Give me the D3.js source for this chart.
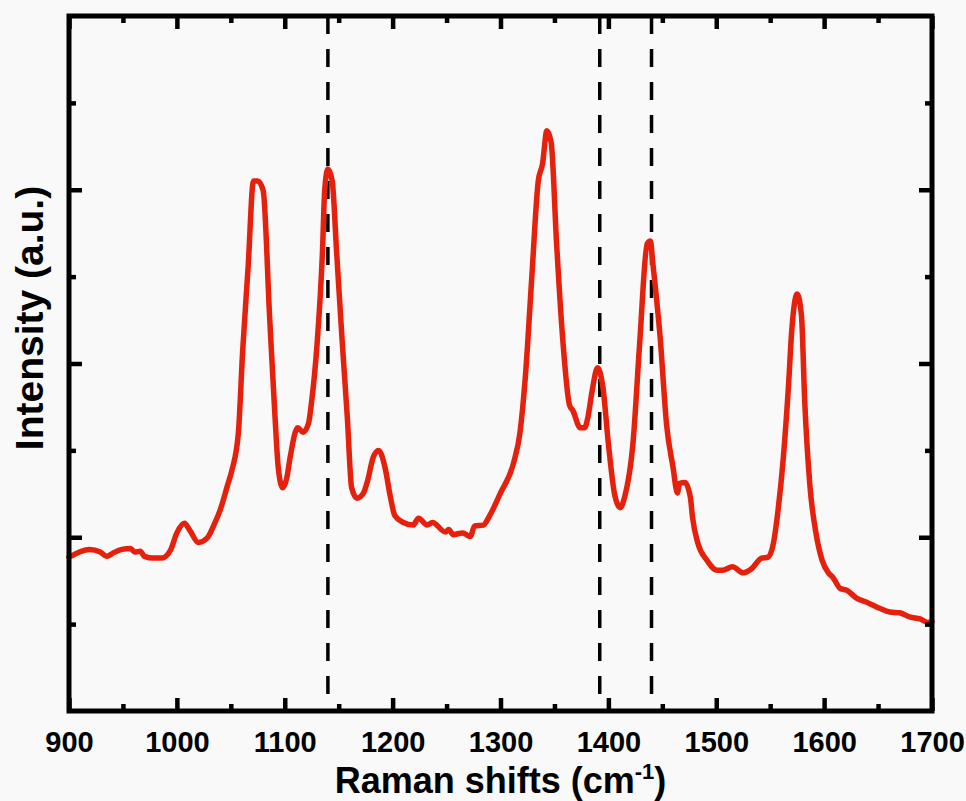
<!DOCTYPE html>
<html>
<head>
<meta charset="utf-8">
<script src="https://cdn.jsdelivr.net/npm/d3@7/dist/d3.min.js"></script>
<style>
  html, body { margin: 0; padding: 0; background: #f9f9f9; }
  svg { display: block; }
  text { font-family: "Liberation Sans", Arial, sans-serif; font-weight: bold; fill: #000; }
</style>
</head>
<body>
<svg id="chart" width="966" height="801"></svg>
<script>
// Raman spectrum: wavenumber (cm^-1) and intensity (a.u.)
const shifts = [
  900, 919, 929, 935, 941, 949, 957, 961, 966, 970, 978, 986, 994, 1000, 1007, 1012, 1020, 1028, 1035, 1040,
  1047, 1051, 1057, 1061, 1066, 1071, 1075, 1080, 1086, 1091, 1094, 1098, 1102, 1105, 1112, 1117, 1122, 1125,
  1130, 1135, 1137, 1140, 1144, 1148, 1153, 1158, 1162, 1167, 1173, 1177, 1182, 1187, 1193, 1198, 1202, 1210,
  1219, 1224, 1232, 1237, 1249, 1252, 1256, 1265, 1272, 1276, 1284, 1290, 1300, 1312, 1318, 1323, 1329, 1335,
  1339, 1343, 1347, 1352, 1358, 1364, 1367, 1374, 1378, 1381, 1385, 1390, 1395, 1400, 1406, 1411, 1415, 1423,
  1429, 1436, 1439, 1441, 1448, 1454, 1460, 1464, 1466, 1471, 1476, 1478, 1483, 1491, 1501, 1506, 1515, 1525,
  1533, 1542, 1548, 1553, 1557, 1562, 1567, 1570, 1575, 1579, 1582, 1587, 1592, 1598, 1604, 1608, 1615, 1621,
  1630, 1640, 1645, 1652, 1661, 1670, 1680, 1689, 1696, 1700
];
const intensity = [
  1.77, 1.86, 1.83, 1.78, 1.82, 1.86, 1.87, 1.83, 1.84, 1.78, 1.76, 1.76, 1.85, 2.05, 2.16, 2.08, 1.94, 1.99, 2.16, 2.31,
  2.60, 2.77, 3.20, 4.15, 5.10, 6.10, 6.10, 5.99, 4.53, 3.38, 2.80, 2.57, 2.69, 2.92, 3.26, 3.21, 3.31, 3.57,
  4.23, 5.30, 5.99, 6.24, 6.10, 5.30, 4.30, 3.38, 2.57, 2.45, 2.51, 2.66, 2.92, 3.00, 2.80, 2.46, 2.25, 2.17,
  2.14, 2.22, 2.14, 2.17, 2.06, 2.09, 2.03, 2.05, 2.01, 2.13, 2.14, 2.25, 2.51, 2.85, 3.20, 3.84, 4.99, 6.10,
  6.30, 6.68, 6.54, 5.38, 4.23, 3.52, 3.46, 3.26, 3.26, 3.38, 3.69, 3.95, 3.72, 3.08, 2.48, 2.34, 2.46, 3.11,
  4.23, 5.38, 5.41, 5.18, 4.30, 3.29, 2.80, 2.51, 2.62, 2.63, 2.46, 2.23, 1.93, 1.74, 1.62, 1.62, 1.66, 1.59,
  1.64, 1.76, 1.77, 1.93, 2.28, 2.89, 3.75, 4.38, 4.80, 4.55, 3.57, 2.57, 2.08, 1.74, 1.59, 1.54, 1.41, 1.39,
  1.30, 1.25, 1.22, 1.18, 1.14, 1.13, 1.08, 1.06, 1.02, 1.03
];
// Band positions marked with dashed guides
const markedBands = [1140, 1392, 1440];
const xMajorTicks = [900, 1000, 1100, 1200, 1300, 1400, 1500, 1600, 1700];
const xMinorTicks = [950, 1050, 1150, 1250, 1350, 1450, 1550, 1650];
const yMajorTicks = [2, 4, 6];
const yMinorTicks = [1, 3, 5, 7];

const svg = d3.select("#chart");
const plotLeft = 69, plotRight = 932, plotTop = 16, plotBottom = 711;

const x = d3.scaleLinear().domain([900, 1700]).range([plotLeft, plotRight]);
const y = d3.scaleLinear().domain([0, 8]).range([plotBottom, plotTop]);

const g = svg.append("g");

// dashed guides
g.selectAll("line.guide")
  .data(markedBands)
  .join("line")
  .attr("class", "guide")
  .attr("x1", d => x(d)).attr("x2", d => x(d))
  .attr("y1", plotTop).attr("y2", plotBottom)
  .attr("stroke", "#000")
  .attr("stroke-width", 3.5)
  .attr("stroke-dasharray", "18,15");

// spectrum
const pts = shifts.map((s, i) => [s, intensity[i]]);
g.append("path")
  .datum(pts)
  .attr("fill", "none")
  .attr("stroke", "#e5200c")
  .attr("stroke-width", 5.5)
  .attr("stroke-linejoin", "round")
  .attr("stroke-linecap", "round")
  .attr("d", d3.line().curve(d3.curveMonotoneX).x(d => x(d[0])).y(d => y(d[1])));

function styleAxis(sel) {
  sel.select(".domain").remove();
  sel.selectAll(".tick line").attr("stroke", "#000").attr("stroke-width", 4.5);
  sel.selectAll(".tick text")
    .attr("font-size", 29)
    .attr("font-family", "'Liberation Sans', Arial, sans-serif")
    .attr("font-weight", "bold");
}

// bottom axis (labels) and mirrored top
svg.append("g").attr("transform", `translate(0,${plotBottom})`)
  .call(d3.axisBottom(x).tickValues(xMajorTicks).tickSizeInner(-13).tickSizeOuter(0).tickPadding(20).tickFormat(d3.format("d")))
  .call(styleAxis);
svg.append("g").attr("transform", `translate(0,${plotBottom})`)
  .call(d3.axisBottom(x).tickValues(xMinorTicks).tickSizeInner(-7).tickSizeOuter(0).tickFormat(""))
  .call(styleAxis);
svg.append("g").attr("transform", `translate(0,${plotTop})`)
  .call(d3.axisTop(x).tickValues(xMajorTicks).tickSizeInner(-13).tickSizeOuter(0).tickFormat(""))
  .call(styleAxis);
svg.append("g").attr("transform", `translate(0,${plotTop})`)
  .call(d3.axisTop(x).tickValues(xMinorTicks).tickSizeInner(-7).tickSizeOuter(0).tickFormat(""))
  .call(styleAxis);

// left and right axes (no labels)
svg.append("g").attr("transform", `translate(${plotLeft},0)`)
  .call(d3.axisLeft(y).tickValues(yMajorTicks).tickSizeInner(-13).tickSizeOuter(0).tickFormat(""))
  .call(styleAxis);
svg.append("g").attr("transform", `translate(${plotLeft},0)`)
  .call(d3.axisLeft(y).tickValues(yMinorTicks).tickSizeInner(-7).tickSizeOuter(0).tickFormat(""))
  .call(styleAxis);
svg.append("g").attr("transform", `translate(${plotRight},0)`)
  .call(d3.axisRight(y).tickValues(yMajorTicks).tickSizeInner(-13).tickSizeOuter(0).tickFormat(""))
  .call(styleAxis);
svg.append("g").attr("transform", `translate(${plotRight},0)`)
  .call(d3.axisRight(y).tickValues(yMinorTicks).tickSizeInner(-7).tickSizeOuter(0).tickFormat(""))
  .call(styleAxis);

// frame
svg.append("rect")
  .attr("x", plotLeft).attr("y", plotTop)
  .attr("width", plotRight - plotLeft).attr("height", plotBottom - plotTop)
  .attr("fill", "none").attr("stroke", "#000").attr("stroke-width", 5);

// axis titles
const xt = svg.append("text")
  .attr("x", (plotLeft + plotRight) / 2).attr("y", 793)
  .attr("text-anchor", "middle")
  .attr("font-size", 36);
xt.append("tspan").text("Raman shifts (cm");
xt.append("tspan").attr("dy", -14).attr("font-size", 22).text("-1");
xt.append("tspan").attr("dy", 14).text(")");

svg.append("text")
  .attr("transform", "translate(43,318) rotate(-90)")
  .attr("text-anchor", "middle")
  .attr("font-size", 39)
  .text("Intensity (a.u.)");
</script>
</body>
</html>
